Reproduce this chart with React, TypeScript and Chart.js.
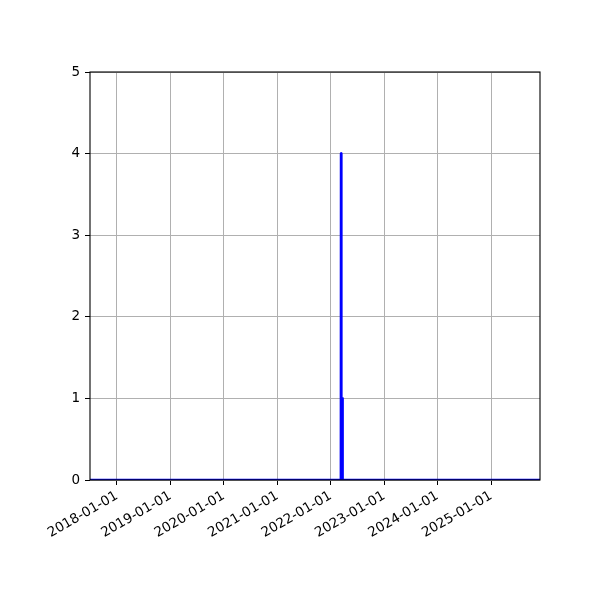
import React, { useEffect, useRef } from 'react';
import { Chart, registerables } from 'chart.js';

Chart.register(...registerables);

// Daily count series (zero everywhere except the March 2022 spike)
const dates = [
  '2017-07-01',
  '2022-03-12',
  '2022-03-13',
  '2022-03-14',
  '2022-03-21',
  '2022-03-22',
  '2022-03-23',
  '2025-12-01',
];
const values = [0, 0, 4, 0, 0, 1, 0, 0];

const xMin = '2017-07-01';
const xMax = '2025-12-01';
const xTickYears = [2018, 2019, 2020, 2021, 2022, 2023, 2024, 2025];
const yTicks = [0, 1, 2, 3, 4, 5];

const ts = (d: string) => Date.parse(d + 'T00:00:00Z');
const fmt = (v: number) => new Date(v).toISOString().slice(0, 10);

const FONT = { family: 'DejaVu Sans', size: 13.5 };

export default function App() {
  const ref = useRef<HTMLCanvasElement | null>(null);

  useEffect(() => {
    if (!ref.current) return;
    const frame = {
      id: 'frame',
      afterDatasetsDraw(chart: any) {
        const { ctx, chartArea: a } = chart;
        ctx.save();
        ctx.strokeStyle = '#000';
        ctx.lineWidth = 1.1;
        ctx.strokeRect(a.left, a.top, a.right - a.left, a.bottom - a.top);
        ctx.restore();
      },
    };
    const chart = new Chart(ref.current, {
      type: 'line',
      data: {
        datasets: [
          {
            data: dates.map((d, i) => ({ x: ts(d), y: values[i] })),
            borderColor: '#0000ff',
            backgroundColor: '#0000ff',
            borderWidth: 2.7,
            borderJoinStyle: 'round',
            borderCapStyle: 'butt',
            pointRadius: 0,
            tension: 0,
            fill: false,
          },
        ],
      },
      options: {
        responsive: false,
        animation: false,
        devicePixelRatio: 1,
        layout: { padding: { left: 0, top: 72, right: 60, bottom: 0 } },
        plugins: { legend: { display: false }, tooltip: { enabled: false } },
        scales: {
          x: {
            type: 'linear',
            min: ts(xMin),
            max: ts(xMax),
            afterBuildTicks: (s: any) => {
              s.ticks = xTickYears.map((y) => ({ value: Date.UTC(y, 0, 1) }));
            },
            afterFit: (s: any) => {
              s.height = 120;
            },
            ticks: {
              callback: (v: any) => fmt(Number(v)),
              minRotation: 30,
              maxRotation: 30,
              autoSkip: false,
              color: '#000',
              font: FONT,
              padding: 3,
            },
            grid: { color: '#b0b0b0', tickColor: '#000', tickLength: 5, lineWidth: 1 },
            border: { display: false },
          },
          y: {
            type: 'linear',
            min: 0,
            max: 5,
            afterBuildTicks: (s: any) => {
              s.ticks = yTicks.map((v) => ({ value: v }));
            },
            afterFit: (s: any) => {
              s.width = 90;
            },
            ticks: { color: '#000', font: FONT, padding: 5 },
            grid: { color: '#b0b0b0', tickColor: '#000', tickLength: 5, lineWidth: 1 },
            border: { display: false },
          },
        },
      },
      plugins: [frame],
    });
    return () => chart.destroy();
  }, []);

  return (
    <div style={{ position: 'absolute', left: 0, top: 0, width: 600, height: 600, background: '#fff' }}>
      <canvas ref={ref} width={600} height={600} style={{ width: 600, height: 600, display: 'block' }} />
    </div>
  );
}
